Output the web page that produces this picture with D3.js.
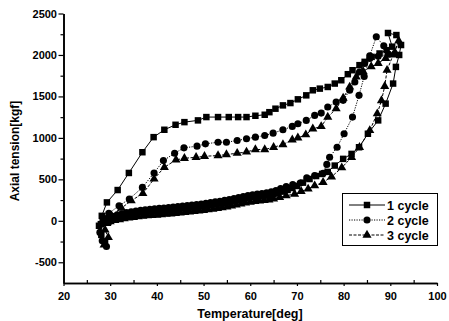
<!DOCTYPE html>
<html>
<head>
<meta charset="utf-8">
<script src="https://cdn.jsdelivr.net/npm/d3@7/dist/d3.min.js"></script>
<style>
body { margin: 0; background: #fff; }
svg { display: block; font-family: "Liberation Sans", Arial, sans-serif; }
</style>
</head>
<body>
<div id="chart"></div>
<script>
var cycle1 = [
  [28.0, -40], [28.4, 0], [29, 15], [30, 30], [31, 45], [32, 55], [33, 65], [34, 78], [35, 90], [36, 100],
  [37, 106], [38, 112], [39, 116], [40, 120], [41, 124], [42, 130], [43, 136], [44, 142],
  [45, 148], [46, 155], [47, 160], [48, 168], [49, 174], [50, 180], [51, 190], [52, 198],
  [53, 206], [54, 215], [55, 228], [56, 240], [57, 250], [58, 262], [59, 274], [60, 285],
  [61, 290], [62, 296], [63, 303], [64, 310], [65, 322], [66, 335], [67, 352], [68, 372],
  [69, 395], [70, 420], [71.3, 460], [72.7, 504], [74.1, 540], [75.4, 565], [76.6, 590],
  [78.1, 666], [79.9, 747], [81.7, 807], [83.3, 887], [85.2, 1050], [87.4, 1211], [89.0, 1413],
  [90.6, 1655], [91.2, 1856], [91.9, 2000], [92.3, 2120], [91.3, 2240], [89.5, 2265],
  [90.4, 2100], [89.2, 2058], [87.7, 2018], [86.0, 1977], [84.5, 1917], [83.4, 1877],
  [81.9, 1816], [80.9, 1768], [79.5, 1695], [78.1, 1655], [76.6, 1614], [74.9, 1594],
  [73.4, 1574], [72.0, 1513], [70.2, 1465], [68.6, 1420], [67.0, 1392], [65.4, 1352],
  [64.1, 1310], [63.1, 1279], [61.1, 1267], [59.2, 1251], [57.4, 1251], [55.4, 1251],
  [53.1, 1251], [50.6, 1251], [48.8, 1211], [45.9, 1190], [44.0, 1158], [41.6, 1098],
  [39.3, 1009], [36.9, 827], [34.0, 577], [31.6, 371], [29.3, 222], [28.2, 60],
  [27.6, -60], [28.1, -170], [28.9, -260]
];

var cycle2 = [
  [28.8, 20], [29.5, 35], [30.5, 55], [31.5, 72], [32.5, 85], [33.5, 98], [34.5, 108],
  [35.5, 118], [36.5, 126], [37.5, 133], [38.5, 140], [39.5, 145], [40.5, 150], [41.5, 155],
  [42.5, 160], [43.5, 166], [44.5, 172], [45.5, 178], [46.5, 184], [47.5, 190], [48.5, 196],
  [49.5, 203], [50.5, 210], [51.5, 220], [52.5, 228], [53.5, 236], [54.5, 246], [55.5, 256],
  [56.5, 268], [57.5, 280], [58.5, 292], [59.5, 304], [60.5, 314], [61.5, 322], [62.5, 330],
  [63.5, 338], [64.5, 350], [65.5, 365], [66.5, 388], [67.7, 412], [69.1, 436], [70.7, 456],
  [72.1, 517], [73.8, 545], [75.6, 573], [76.4, 680], [77.0, 766], [78.6, 887], [80.1, 1050],
  [81.9, 1251], [83.3, 1513], [84.4, 1740], [85.6, 1990], [87.0, 2219], [88.6, 2110],
  [89.6, 2010], [87.4, 1985], [85.6, 1957], [84.5, 1897], [83.4, 1795], [82.4, 1674],
  [81.3, 1574], [79.9, 1453], [78.4, 1432], [76.6, 1372], [75.2, 1299], [73.8, 1271],
  [72.0, 1211], [70.2, 1171], [69.0, 1138], [67.0, 1098], [64.9, 1057], [63.1, 1029],
  [61.1, 1009], [59.2, 989], [57.2, 968], [54.9, 948], [53.1, 948], [50.4, 928], [48.6, 900],
  [45.8, 880], [43.8, 815], [41.4, 726], [39.4, 577], [36.9, 403], [34.1, 262], [31.9, 182],
  [29.7, 90], [28.6, -20], [27.8, -140], [28.3, -240], [29.2, -310]
];

var cycle3 = [
  [29.3, -30], [30, -10], [31, 5], [32, 15], [33, 25], [34, 35], [35, 42], [36, 50], [37, 56],
  [38, 62], [39, 66], [40, 70], [41, 75], [42, 80], [43, 85], [44, 90], [45, 96], [46, 102],
  [47, 108], [48, 114], [49, 120], [50, 126], [51, 134], [52, 142], [53, 150], [54, 158],
  [55, 168], [56, 180], [57, 192], [58, 204], [59, 216], [60, 226], [61, 234], [62, 240],
  [63, 246], [64, 254], [65, 264], [66.3, 284], [67.7, 303], [69.5, 323], [70.9, 355],
  [72.4, 384], [73.8, 424], [75.6, 464], [77.4, 530], [79.6, 640], [81.7, 766], [83.4, 887],
  [85.6, 1090], [87.2, 1292], [88.1, 1450], [88.8, 1622], [89.3, 1816], [90.6, 2000],
  [91.8, 2170], [91.0, 2030], [89.0, 1960], [87.4, 1900], [85.9, 1860], [84.2, 1800],
  [82.7, 1735], [81.3, 1614], [79.9, 1480], [78.4, 1352], [76.6, 1251], [75.2, 1138],
  [73.4, 1110], [71.9, 1038], [70.2, 1000], [69.0, 977], [67.0, 920], [65.0, 887], [63.1, 860],
  [61.1, 860], [59.2, 830], [57.2, 815], [54.9, 799], [53.1, 787], [50.2, 778], [48.4, 766],
  [45.9, 754], [44.1, 735], [41.6, 645], [39.4, 505], [37.0, 330], [34.5, 242], [32.4, 153],
  [30.3, 60], [29.4, -20], [28.9, -110], [29.6, -200], [28.7, -290]
];

var seriesNames = ['1 cycle', '2 cycle', '3 cycle'];
var xTicks = [20, 30, 40, 50, 60, 70, 80, 90, 100];
var yTicks = [-500, 0, 500, 1000, 1500, 2000, 2500];

var width = 449,
    height = 321;

var svg = d3.select('#chart').append('svg')
    .attr('width', width)
    .attr('height', height);

var x = d3.scaleLinear()
    .domain([20, 100])
    .range([63.5, 437]);

var y = d3.scaleLinear()
    .domain([-750, 2500])
    .range([283, 13.5]);

var series = [
  {name: seriesNames[0], data: cycle1, symbol: d3.symbolSquare, size: 42, dash: null},
  {name: seriesNames[1], data: cycle2, symbol: d3.symbolCircle, size: 40, dash: '1.2,1.3'},
  {name: seriesNames[2], data: cycle3, symbol: d3.symbolTriangle, size: 36, dash: '3,1.5'}
];

// axes
var xAxis = d3.axisBottom(x)
    .tickValues(xTicks)
    .tickSize(3)
    .tickSizeOuter(0)
    .tickPadding(6)
    .tickFormat(function(d) { return d; });

var xMinor = d3.axisBottom(x)
    .tickValues(d3.range(25, 100, 10))
    .tickSize(-3)
    .tickSizeOuter(0)
    .tickFormat('');

var yAxis = d3.axisLeft(y)
    .tickValues(yTicks)
    .tickSize(5)
    .tickSizeOuter(0)
    .tickPadding(1.5)
    .tickFormat(function(d) { return String(d); });

var yMinor = d3.axisLeft(y)
    .tickValues([-250, 250, 750, 1250, 1750, 2250])
    .tickSize(3)
    .tickSizeOuter(0)
    .tickFormat('');

svg.append('g')
    .attr('transform', 'translate(0,283)')
    .call(xMinor);

svg.append('g')
    .attr('class', 'xaxis')
    .attr('transform', 'translate(0,283)')
    .call(xAxis);

svg.append('g')
    .attr('transform', 'translate(63.5,0)')
    .call(yMinor);

svg.append('g')
    .attr('class', 'yaxis')
    .attr('transform', 'translate(63.5,0)')
    .call(yAxis);

svg.selectAll('.domain').attr('stroke', '#000').attr('stroke-width', 1.6);
svg.selectAll('.tick line').attr('stroke', '#000').attr('stroke-width', 1.2);
svg.selectAll('.tick text')
    .attr('fill', '#000')
    .attr('font-family', '"Liberation Sans", Arial, sans-serif')
    .attr('font-weight', 'bold')
    .attr('font-size', '11px');

// axis titles
svg.append('text')
    .attr('x', 250)
    .attr('y', 318)
    .attr('text-anchor', 'middle')
    .attr('font-weight', 'bold')
    .attr('font-size', '12.5px')
    .text('Temperature[deg]');

svg.append('text')
    .attr('transform', 'translate(18.5,151) rotate(-90)')
    .attr('text-anchor', 'middle')
    .attr('font-weight', 'bold')
    .attr('font-size', '12px')
    .text('Axial tension[kgf]');

// lines and markers
var line = d3.line()
    .x(function(d) { return x(d[0]); })
    .y(function(d) { return y(d[1]); });

series.forEach(function(s) {
    svg.append('path')
        .datum(s.data)
        .attr('fill', 'none')
        .attr('stroke', '#000')
        .attr('stroke-width', 1)
        .attr('stroke-dasharray', s.dash)
        .attr('d', line);

    svg.selectAll(null)
        .data(s.data)
        .enter().append('path')
        .attr('transform', function(d) { return 'translate(' + x(d[0]) + ',' + y(d[1]) + ')'; })
        .attr('d', d3.symbol(s.symbol, s.size))
        .attr('fill', '#000');
});

// legend
var legend = svg.append('g')
    .attr('transform', 'translate(342,193)');

legend.append('rect')
    .attr('x', 0.5)
    .attr('y', 0.5)
    .attr('width', 95)
    .attr('height', 52)
    .attr('fill', '#fff')
    .attr('stroke', '#000')
    .attr('stroke-width', 1);

var entry = legend.selectAll('.entry')
    .data(series)
    .enter().append('g')
    .attr('class', 'entry')
    .attr('transform', function(d, i) { return 'translate(0,' + (12 + i * 15) + ')'; });

entry.append('line')
    .attr('x1', 7)
    .attr('x2', 43)
    .attr('stroke', '#000')
    .attr('stroke-width', 1)
    .attr('stroke-dasharray', function(d) { return d.dash; });

entry.append('path')
    .attr('transform', 'translate(25,0)')
    .attr('d', function(d) { return d3.symbol(d.symbol, d.size)(); })
    .attr('fill', '#000');

entry.append('text')
    .attr('x', 45)
    .attr('dy', '0.36em')
    .attr('font-weight', 'bold')
    .attr('font-size', '12.5px')
    .text(function(d) { return d.name; });
</script>
</body>
</html>
